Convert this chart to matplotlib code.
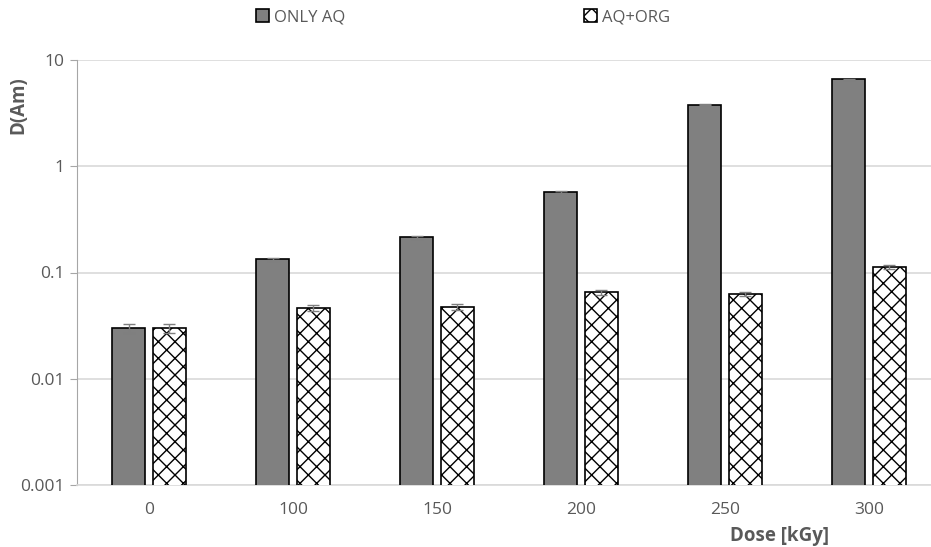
import numpy as np
import matplotlib.pyplot as plt

plt.rcParams['font.family'] = ['Open Sans', 'DejaVu Sans']
plt.rcParams['hatch.linewidth'] = 1.0

# datos
doses = ['0', '100', '150', '200', '250', '300']
only_aq = [0.030, 0.133, 0.214, 0.57, 3.8, 6.6]
only_aq_err = [0.003, 0.004, 0.006, 0.012, 0.05, 0.08]
aq_org = [0.030, 0.046, 0.047, 0.065, 0.063, 0.113]
aq_org_err = [0.003, 0.003, 0.003, 0.003, 0.003, 0.004]

grey_txt = '#595959'
x = np.arange(len(doses))
w = 0.23
off = 0.142

fig = plt.figure(figsize=(9.31, 5.47), dpi=100)
ax = fig.add_axes([77/931, 1 - 485/547, 1 - 77/931, 425/547])

ax.bar(x - off, only_aq, w, color='#808080', edgecolor='black', linewidth=1.2,
       label='ONLY AQ', zorder=3)
ax.bar(x + off, aq_org, w, color='white', edgecolor='black', linewidth=1.2,
       hatch='xx', label='AQ+ORG', zorder=3)
ax.errorbar(x - off, only_aq, yerr=only_aq_err, fmt='none', ecolor='#7f7f7f',
            elinewidth=1, capsize=4, zorder=4)
ax.errorbar(x + off, aq_org, yerr=aq_org_err, fmt='none', ecolor='#7f7f7f',
            elinewidth=1, capsize=4, zorder=4)

ax.set_yscale('log')
ax.set_ylim(0.001, 10)
ax.set_xlim(-0.5, 5.5 - 10/144)
ax.set_yticks([0.001, 0.01, 0.1, 1, 10])
ax.set_yticklabels(['0.001', '0.01', '0.1', '1', '10'])
ax.minorticks_off()
ax.set_xticks(x)
ax.set_xticklabels(doses)
ax.tick_params(axis='both', colors=grey_txt, labelsize=12.5)
ax.tick_params(axis='x', length=0, pad=12)
ax.tick_params(axis='y', length=5, color='#a6a6a6', direction='out', pad=4)
ax.grid(axis='y', color='#d9d9d9', linewidth=1.2, zorder=0)
for s in ['top', 'right']:
    ax.spines[s].set_visible(False)
ax.spines['left'].set_color('#a6a6a6')
ax.spines['bottom'].set_color('#d9d9d9')
ax.spines['bottom'].set_linewidth(1.2)

fig.text(18/931, 1 - 105/547, 'D(Am)', rotation=90, ha='center', va='center',
         fontsize=13.5, fontweight='bold', color=grey_txt)
fig.text(779/931, 1 - 536/547, 'Dose [kGy]', ha='center', va='center',
         fontsize=13.5, fontweight='bold', color=grey_txt)

fig.legend(loc='center', bbox_to_anchor=(463/931, 1 - 17/547), ncol=2, frameon=False,
           fontsize=12, labelcolor=grey_txt, columnspacing=14.3, handlelength=0.8,
           handleheight=0.8, handletextpad=0.3)

fig.savefig('out.png', dpi=100)
